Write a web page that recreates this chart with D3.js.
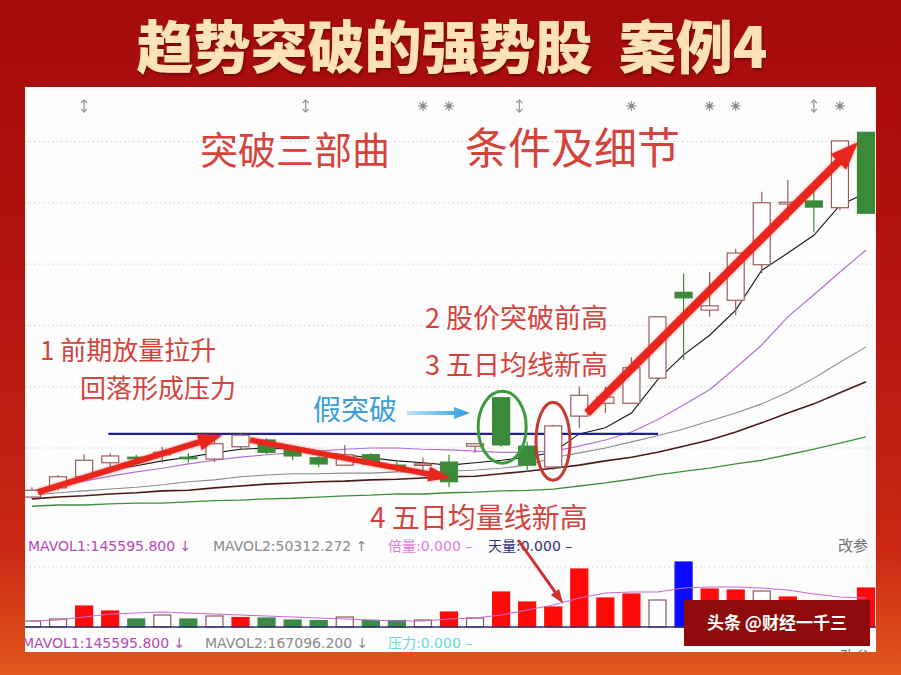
<!DOCTYPE html>
<html><head><meta charset="utf-8">
<script src="https://cdn.jsdelivr.net/npm/d3@7"></script>
<style>html,body{margin:0;padding:0;background:#fff;} svg{display:block;}</style>
</head><body><svg id="c" width="901" height="675"></svg>
<script>
// ---------------- DATA ----------------
const days = ["D01","D02","D03","D04","D05","D06","D07","D08","D09","D10","D11","D12","D13","D14","D15","D16","D17",
              "D18","D19","D20","D21","D22","D23","D24","D25","D26","D27","D28","D29","D30","D31","D32","D33"];
const open  = [9.20,9.35,9.53,9.76,9.85,9.89,9.85,9.82,10.02,10.13,9.97,9.84,9.72,9.89,9.72,9.72,9.77,
               10.03,10.82,10.03,9.69,10.52,10.73,10.73,11.14,12.54,12.25,12.41,12.99,13.98,14.03,13.92,15.15];
const close = [9.31,9.53,9.80,9.87,9.84,9.93,9.84,10.07,10.21,9.93,9.87,9.74,9.89,9.74,9.71,9.74,9.45,
               10.07,10.05,9.72,10.36,10.86,10.83,11.31,12.14,12.45,12.32,13.18,14.00,14.01,13.93,15.01,13.83];
const high  = [9.36,9.56,9.90,9.92,9.89,10.02,9.92,10.13,10.24,10.16,10.00,9.87,10.05,9.92,9.80,9.84,9.89,
               10.08,10.83,10.10,10.38,11.00,11.00,11.48,12.14,12.85,12.87,13.25,14.18,14.37,14.29,15.01,15.15];
const low   = [9.17,9.31,9.51,9.69,9.80,9.76,9.76,9.77,9.98,9.90,9.80,9.69,9.71,9.71,9.61,9.64,9.36,
               9.92,10.02,9.61,9.64,10.33,10.57,10.72,11.11,11.44,12.14,12.17,12.85,13.72,13.52,13.88,13.83];
const ma5   = [9.27,9.36,9.53,9.64,9.71,9.79,9.85,9.92,9.98,10.00,9.98,9.93,9.89,9.84,9.79,9.76,9.72,
               9.76,9.80,9.85,9.93,10.23,10.33,10.57,11.11,11.52,11.84,12.25,12.90,13.18,13.47,13.96,14.16];
const ma10  = [9.30,9.38,9.46,9.54,9.61,9.67,9.74,9.80,9.85,9.89,9.92,9.95,9.98,10.00,10.00,9.98,9.97,
               9.95,9.93,9.93,9.95,10.03,10.13,10.26,10.46,10.70,10.95,11.31,11.68,12.14,12.50,12.87,13.23];
const ma20  = [9.23,9.27,9.30,9.33,9.36,9.40,9.45,9.48,9.53,9.56,9.58,9.58,9.59,9.59,9.61,9.61,9.62,
               9.64,9.67,9.72,9.84,9.92,10.00,10.10,10.20,10.31,10.44,10.57,10.72,10.91,11.14,11.40,11.65];
const ma30  = [9.17,9.20,9.22,9.25,9.27,9.30,9.31,9.35,9.38,9.41,9.43,9.45,9.46,9.48,9.49,9.51,9.53,
               9.54,9.58,9.62,9.67,9.72,9.79,9.85,9.93,10.03,10.13,10.26,10.41,10.57,10.72,10.90,11.08];
const ma60  = [9.05,9.07,9.07,9.09,9.10,9.10,9.12,9.14,9.15,9.17,9.18,9.20,9.22,9.23,9.25,9.25,9.27,
               9.28,9.30,9.31,9.33,9.38,9.43,9.49,9.56,9.62,9.67,9.74,9.80,9.89,9.98,10.08,10.18];
const volume = [30000,40000,105000,80000,40000,60000,40000,55000,47500,45000,35000,32500,50000,32500,32500,35000,75000,
                45000,175000,125000,100000,290000,145000,165000,135000,325000,190000,185000,180000,150000,130000,120000,195000];
const volType = ["hollow","hollow","red","red","green","hollow","green","hollow","red","green","green","green","hollow","green","green","hollow","red",
                 "hollow","red","red","red","red","red","red","hollow","blue","red","red","hollow","red","red","red","red"];
const mavol = [30000,35000,50000,65000,70000,75000,70000,65000,60000,55000,50000,45000,40000,35000,30000,30000,40000,
               45000,60000,85000,110000,145000,170000,175000,175000,195000,200000,200000,195000,185000,165000,150000,145000];
const gridPrices = [10,11,12,13,14,15];
const topMarks = [{i:2,s:"dag"},{i:10.5,s:"dag"},{i:15,s:"star"},{i:16,s:"star"},{i:18.7,s:"dag"},
                  {i:23,s:"star"},{i:26,s:"star"},{i:27,s:"star"},{i:30,s:"dag"},{i:31,s:"star"}];
const resistance = {price:10.23, from:2.93, to:24.02};
const legendTop = [
  {t:"MAVOL1:145595.800 ↓", c:"#b548b5", x:28},
  {t:"MAVOL2:50312.272 ↑", c:"#8a8a8a", x:213},
  {t:"倍量:0.000 –", c:"#e47ae4", x:388},
  {t:"天量:0.000 –", c:"#2e2e7a", x:488}];
const legendBot = [
  {t:"MAVOL1:145595.800 ↓", c:"#b548b5", x:22},
  {t:"MAVOL2:167096.200 ↓", c:"#8a8a8a", x:205},
  {t:"压力:0.000 –", c:"#5ee0d6", x:388}];

// ---------------- SETUP ----------------
const W = 901, H = 675;
const svg = d3.select("#c");
const defs = svg.append("defs");
const bg = defs.append("linearGradient").attr("id","bg").attr("x1",0).attr("y1",0).attr("x2",0).attr("y2",1);
bg.append("stop").attr("offset","0").attr("stop-color","#a50b0b");
bg.append("stop").attr("offset","0.45").attr("stop-color","#b51411");
bg.append("stop").attr("offset","0.82").attr("stop-color","#cb2913");
bg.append("stop").attr("offset","1").attr("stop-color","#e2581e");
defs.append("clipPath").attr("id","panelClip").append("rect").attr("x",25).attr("y",87).attr("width",851).attr("height",565);
const blur = defs.append("filter").attr("id","glow").attr("x","-20%").attr("y","-20%").attr("width","140%").attr("height","140%");
blur.append("feGaussianBlur").attr("stdDeviation",1.6);
const tshadow = defs.append("filter").attr("id","tsh").attr("x","-5%").attr("y","-20%").attr("width","110%").attr("height","140%");
tshadow.append("feDropShadow").attr("dx",1).attr("dy",2).attr("stdDeviation",1.5).attr("flood-color","#5a0000").attr("flood-opacity",0.7);
const blueGrad = defs.append("linearGradient").attr("id","bluearr").attr("x1",0).attr("x2",1);
blueGrad.append("stop").attr("offset","0").attr("stop-color","#bfe3f7");
blueGrad.append("stop").attr("offset","1").attr("stop-color","#2b9be0");

svg.append("rect").attr("width",W).attr("height",H).attr("fill","url(#bg)");

// title
svg.append("text").attr("x",452).attr("y",68).attr("text-anchor","middle")
  .attr("font-family","'Noto Sans CJK SC'").attr("font-weight",900).attr("font-size",57)
  .attr("fill","#fde2b6").attr("filter","url(#tsh)").style("white-space","pre")
  .text("趋势突破的强势股  案例4");

svg.append("rect").attr("x",25).attr("y",87).attr("width",851).attr("height",565).attr("fill","#fdfdfd");
const g = svg.append("g").attr("clip-path","url(#panelClip)");

// scales
const x = d3.scaleLinear().domain([0, days.length-1]).range([32, 866]);
const y = d3.scaleLinear().domain([10, 15]).range([448, 141.5]);
const yv = d3.scaleLinear().domain([0, 325000]).range([627, 562]);
const bw = 17;

// grid lines
g.selectAll(".grid").data(gridPrices).join("line")
  .attr("x1",25).attr("x2",876).attr("y1",d=>y(d)).attr("y2",d=>y(d))
  .attr("stroke","#cfcfcf").attr("stroke-width",1).attr("stroke-dasharray","1.5,3");
g.append("line").attr("x1",25).attr("x2",876).attr("y1",yv(300000)).attr("y2",yv(300000))
  .attr("stroke","#cfcfcf").attr("stroke-dasharray","1.5,3");

// top markers
const mk = g.append("g");
topMarks.forEach(m=>{
  const cx = x(m.i), cy = 106;
  if(m.s==="star"){
    d3.range(8).forEach(k=>{
      const a = k*Math.PI/4;
      mk.append("line").attr("x1",cx).attr("y1",cy).attr("x2",cx+5*Math.cos(a)).attr("y2",cy+5*Math.sin(a))
        .attr("stroke","#9a9a9a").attr("stroke-width",1.3);
    });
    mk.append("circle").attr("cx",cx).attr("cy",cy).attr("r",2.2).attr("fill","#8a8a8a");
  } else {
    mk.append("line").attr("x1",cx).attr("x2",cx).attr("y1",cy-6).attr("y2",cy+6).attr("stroke","#9a9a9a").attr("stroke-width",1.3);
    mk.append("path").attr("d",`M${cx-3},${cy-3}L${cx},${cy-6}L${cx+3},${cy-3}M${cx-3},${cy+3}L${cx},${cy+6}L${cx+3},${cy+3}`)
      .attr("fill","none").attr("stroke","#9a9a9a").attr("stroke-width",1.3);
  }
});

// moving averages
const maDefs = [
  {v:ma60, c:"#3d8f3d", w:1.3},
  {v:ma30, c:"#4a1a1a", w:1.6},
  {v:ma20, c:"#8c8c8c", w:1.1},
  {v:ma10, c:"#b070d8", w:1.2},
  {v:ma5,  c:"#151515", w:1.1}];
const line = d3.line().x((d,i)=>x(i)).y(d=>y(d));
maDefs.forEach(m=>{
  g.append("path").datum(m.v).attr("d",line).attr("fill","none").attr("stroke",m.c).attr("stroke-width",m.w);
});

// resistance line
g.append("line").attr("x1",x(resistance.from)).attr("x2",x(resistance.to))
  .attr("y1",y(resistance.price)).attr("y2",y(resistance.price))
  .attr("stroke","#1f1f9e").attr("stroke-width",2.4);

// candles
const cd = days.map((d,i)=>({i, o:open[i], c:close[i], h:high[i], l:low[i]}));
const up = d=>d.c>=d.o;
const cg = g.append("g");
cg.selectAll(".wick").data(cd).join("line")
  .attr("x1",d=>x(d.i)).attr("x2",d=>x(d.i)).attr("y1",d=>y(d.h)).attr("y2",d=>y(d.l))
  .attr("stroke",d=>up(d)?"#9c5c5c":"#3a8a3a").attr("stroke-width",1.2);
cg.selectAll(".body").data(cd).join("rect")
  .attr("x",d=>x(d.i)-bw/2).attr("width",bw)
  .attr("y",d=>y(Math.max(d.o,d.c)))
  .attr("height",d=>Math.max(1.5, Math.abs(y(d.o)-y(d.c))))
  .attr("fill",d=>up(d)?"#ffffff":"#3a8a3a")
  .attr("stroke",d=>up(d)?"#9c5c5c":"#3a8a3a").attr("stroke-width",1.2);

// volume
const vcol = {red:"#ff0a0a", green:"#3a8a4a", blue:"#0a0aff", hollow:"#ffffff"};
const vstroke = {red:"#ff0a0a", green:"#3a8a4a", blue:"#0a0aff", hollow:"#8c5a5a"};
g.selectAll(".vol").data(volume).join("rect")
  .attr("x",(d,i)=>x(i)-bw/2).attr("width",bw)
  .attr("y",d=>yv(d)).attr("height",d=>yv(0)-yv(d))
  .attr("fill",(d,i)=>vcol[volType[i]]).attr("stroke",(d,i)=>vstroke[volType[i]]).attr("stroke-width",1.2);
g.append("path").datum(mavol).attr("d",d3.line().x((d,i)=>x(i)).y(d=>yv(d)))
  .attr("fill","none").attr("stroke","#c46ad0").attr("stroke-width",1.2);
g.append("line").attr("x1",25).attr("x2",876).attr("y1",yv(0)).attr("y2",yv(0))
  .attr("stroke","#2e2e6e").attr("stroke-width",1.4);

// legends
const lf = "'DejaVu Sans','Noto Sans CJK SC'";
function legend(items, yy){
  items.forEach(it=>{
    g.append("text").attr("x",it.x).attr("y",yy).attr("font-family",lf).attr("font-size",14)
      .attr("fill",it.c).text(it.t);
  });
}
legend(legendTop, 551);
legend(legendBot, 648);
g.append("text").attr("x",838).attr("y",551).attr("font-family","'Noto Sans CJK SC'").attr("font-size",15).attr("fill","#707070").text("改参");
g.append("text").attr("x",840).attr("y",662).attr("font-family","'Noto Sans CJK SC'").attr("font-size",15).attr("fill","#707070").text("改参");

// ---------------- ANNOTATIONS ----------------
function arrow(sel, x1,y1,x2,y2, sw, hl, hw, color, glow){
  const dx=x2-x1, dy=y2-y1, L=Math.hypot(dx,dy), ux=dx/L, uy=dy/L, px=-uy, py=ux;
  const bx=x2-ux*hl, by=y2-uy*hl;
  const pts=[[x1+px*sw/2,y1+py*sw/2],[bx+px*sw/2,by+py*sw/2],[bx+px*hw/2,by+py*hw/2],[x2,y2],
             [bx-px*hw/2,by-py*hw/2],[bx-px*sw/2,by-py*sw/2],[x1-px*sw/2,y1-py*sw/2]];
  const d="M"+pts.map(p=>p.join(",")).join("L")+"Z";
  if(glow) sel.append("path").attr("d",d).attr("fill",color).attr("opacity",0.55).attr("filter","url(#glow)");
  sel.append("path").attr("d",d).attr("fill",color);
}
const ann = g.append("g");
arrow(ann, x(0.23), y(9.28), x(7.3), y(10.21), 6, 24, 17, "#e8261e", true);
arrow(ann, x(8.37), y(10.13), x(16.05), y(9.51), 5.5, 22, 15, "#e8261e", true);
arrow(ann, x(21.3), y(10.57), x(31.7), y(14.99), 8, 28, 22, "#e8261e", true);
arrow(ann, x(18.65), yv(435000), x(20.38), yv(118000), 3, 14, 10, "#d0302a", false);
arrow(ann, 407, 413, 470, 413, 4, 16, 12, "url(#bluearr)", false);

ann.append("ellipse").attr("cx",x(18.04)).attr("cy",y(10.34)).attr("rx",24).attr("ry",36)
  .attr("fill","none").attr("stroke","#3c9c3c").attr("stroke-width",3);
ann.append("ellipse").attr("cx",x(19.99)).attr("cy",y(10.11)).attr("rx",17).attr("ry",39)
  .attr("fill","none").attr("stroke","#c7392f").attr("stroke-width",3);

const red = "#d4433c";
const txt = (t,xx,yy,size,col)=>ann.append("text").attr("x",xx).attr("y",yy)
  .attr("font-family","'Noto Sans CJK SC'").attr("font-size",size).attr("fill",col).text(t);
txt("突破三部曲", 200, 164, 38, red);
txt("条件及细节", 465, 164, 43, red);
txt("1 前期放量拉升", 40, 360, 26, red);
txt("回落形成压力", 80, 398, 26, red);
txt("2 股价突破前高", 425, 328, 27, red);
txt("3 五日均线新高", 425, 375, 27, red);
txt("假突破", 313, 420, 28, "#3b9ed8");
txt("4 五日均量线新高", 370, 528, 28, red);

// watermark
svg.append("rect").attr("x",684).attr("y",600).attr("width",186).attr("height",46).attr("fill","#8e0b0b");
svg.append("text").attr("x",777).attr("y",629).attr("text-anchor","middle")
  .attr("font-family","'Noto Sans CJK SC'").attr("font-weight",700).attr("font-size",17).attr("fill","#ffffff")
  .text("头条 @财经一千三");
</script></body></html>
